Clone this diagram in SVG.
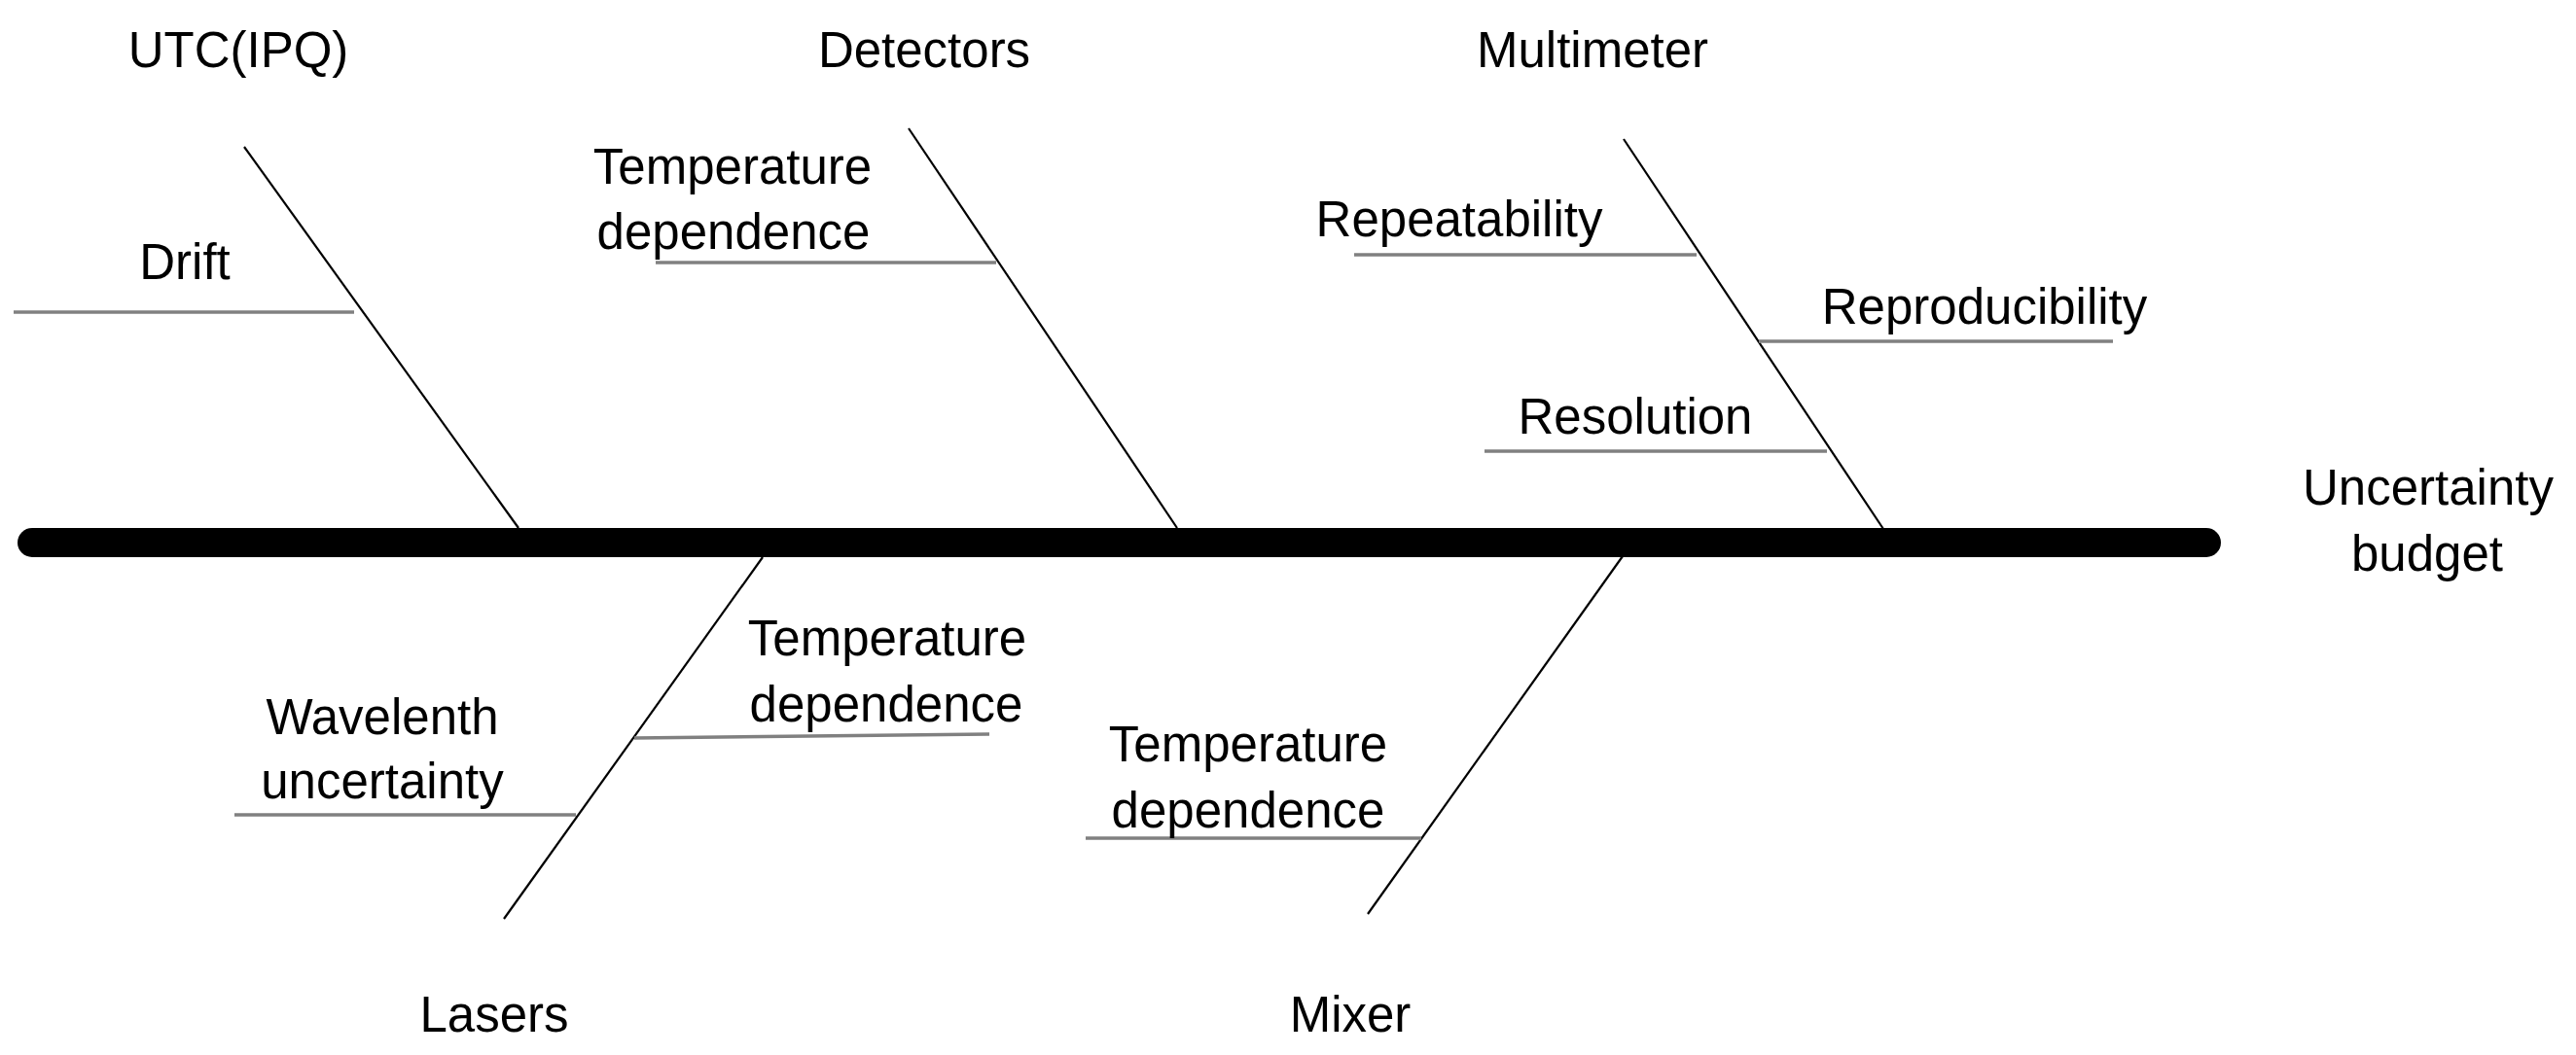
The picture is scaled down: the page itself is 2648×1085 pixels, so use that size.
<svg xmlns="http://www.w3.org/2000/svg" width="2648" height="1085" viewBox="0 0 2648 1085">
<style>
text{font-family:"Liberation Sans",Arial,sans-serif;font-size:51px;fill:#000;text-anchor:middle}
.bone{stroke:#000;stroke-width:2.2;fill:none}
.sub{stroke:#808080;stroke-width:3.5;fill:none}
.spine{stroke:#000;stroke-width:30;stroke-linecap:round;fill:none}
</style>
<rect width="2648" height="1085" fill="#fff"/>
<g id="connectors">
<line class="spine" x1="33" y1="558" x2="2268" y2="558"/>
<line class="bone" x1="251" y1="151" x2="533" y2="543"/>
<line class="bone" x1="934" y1="132" x2="1210" y2="543"/>
<line class="bone" x1="1669" y1="143" x2="1936" y2="544"/>
<line class="bone" x1="784" y1="573" x2="518" y2="945"/>
<line class="bone" x1="1668" y1="572" x2="1406" y2="940"/>
</g>
<g id="effect">
<text x="2496" y="519">Uncertainty</text>
<text x="2495" y="587">budget</text>
</g>
<g id="utc">
<text x="245" y="69">UTC(IPQ)</text>
<line class="sub" x1="14" y1="321" x2="364" y2="321"/>
<text x="190" y="287">Drift</text>
</g>
<g id="detectors">
<text x="950" y="69">Detectors</text>
<line class="sub" x1="674" y1="270" x2="1024" y2="270"/>
<text x="753" y="189">Temperature</text>
<text x="754" y="256">dependence</text>
</g>
<g id="multimeter">
<text x="1637" y="69">Multimeter</text>
<line class="sub" x1="1392" y1="262" x2="1744" y2="262"/>
<text x="1500" y="243">Repeatability</text>
<line class="sub" x1="1808" y1="351" x2="2172" y2="351"/>
<text x="2040" y="333">Reproducibility</text>
<line class="sub" x1="1526" y1="464" x2="1878" y2="464"/>
<text x="1681" y="446">Resolution</text>
</g>
<g id="lasers">
<text x="508" y="1061">Lasers</text>
<line class="sub" x1="652" y1="759" x2="1017" y2="755"/>
<text x="912" y="674">Temperature</text>
<text x="911" y="742">dependence</text>
<line class="sub" x1="241" y1="838" x2="592" y2="838"/>
<text x="393" y="755">Wavelenth</text>
<text x="393" y="821">uncertainty</text>
</g>
<g id="mixer">
<text x="1388" y="1061">Mixer</text>
<line class="sub" x1="1116" y1="862" x2="1461" y2="862"/>
<text x="1283" y="783">Temperature</text>
<text x="1283" y="851">dependence</text>
</g>
</svg>
